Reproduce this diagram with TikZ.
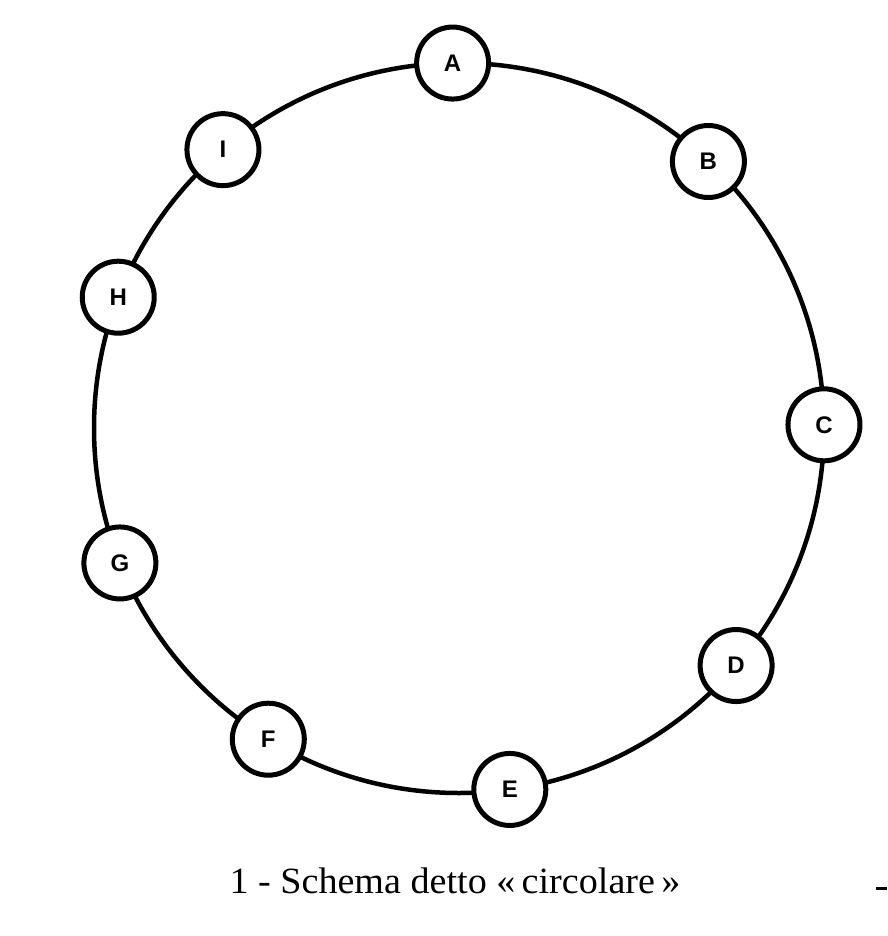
\documentclass[tikz,border=0pt]{standalone}
\usepackage{fontspec}
\usetikzlibrary{calc}
\setmainfont{Liberation Serif}
\newfontfamily\lblfont{Liberation Sans}
\begin{document}
\begin{tikzpicture}[x=1pt,y=-1pt,
  station/.style={circle,draw=black,fill=white,line width=5pt,minimum size=72pt,inner sep=0pt,font=\lblfont\bfseries\fontsize{24}{24}\selectfont},
  ring/.style={line width=4.5pt}]
\useasboundingbox (0,0) rectangle (887,936);
\coordinate (O) at (459,428);
\draw[ring] (O) circle[radius=365];
\foreach \n/\a in {A/91,B/46.9,C/0.5,D/-40.6,E/-82,F/-121.5,G/-158.3,H/159,I/130.3}{
  \node[station] (\n) at ($(O)+(\a:365 and -365)$) {\n};
}
\node[font=\fontsize{37}{37}\selectfont,anchor=base,xscale=1.03] (cap) at (455,893) {1 - Schema detto «\,circolare\,»};
\coordinate (d1) at (876,888);
\coordinate (d2) at (887,888);
\draw[line width=3pt] (d1) -- (d2);
\end{tikzpicture}
\end{document}
